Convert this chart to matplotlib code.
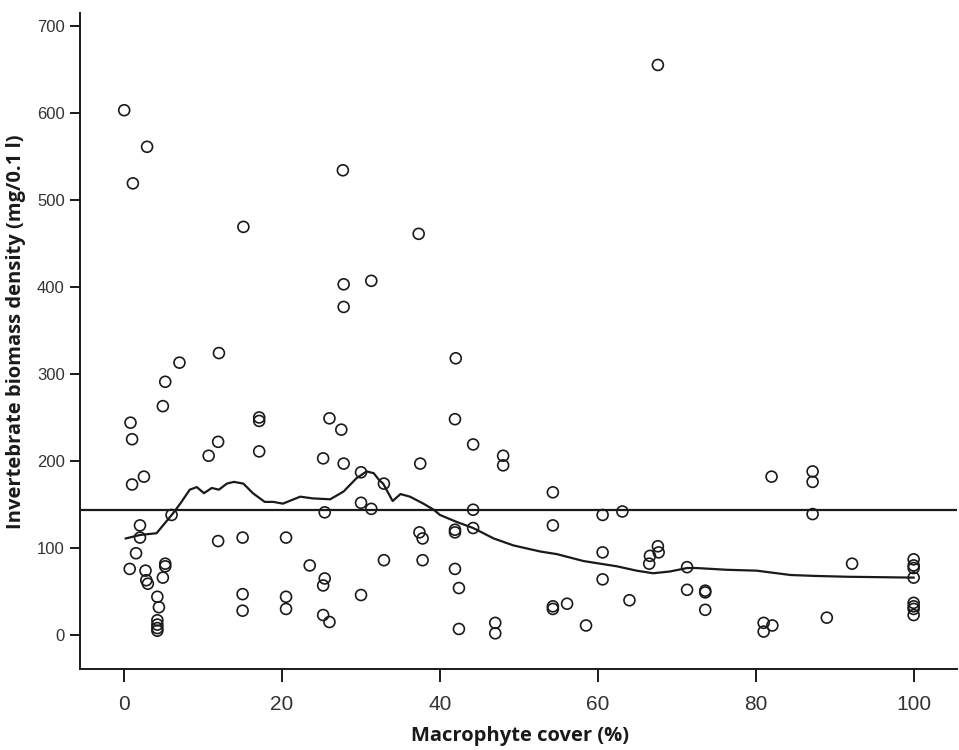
import numpy as np
import matplotlib
matplotlib.use('Agg')
import matplotlib.pyplot as plt

# macrophyte cover (%) and invertebrate biomass density (mg/0.1 l)
cover = [0, 2.9, 1.1, 27.7, 15.1, 37.3, 67.6, 27.8, 31.3, 27.8,
         12.0, 7.0, 5.2, 4.9, 0.8, 1.0, 17.1, 17.1, 26.0, 27.5,
         11.9, 17.1, 10.7, 25.2, 27.8, 2.5, 1.0, 30.0, 30.0, 31.3,
         25.4, 6.0, 2.0, 2.0, 11.9, 15.0, 20.5, 1.5, 0.7, 5.2,
         5.2, 2.7, 2.8, 3.0, 4.9, 4.2, 4.4, 4.2, 4.2, 4.2,
         4.2, 23.5, 25.4, 25.2, 15.0, 15.0, 20.5, 20.5, 25.2, 26.0,
         30.0, 32.9, 42.0, 41.9, 44.2, 37.5, 48.0, 48.0, 32.9, 54.3,
         44.2, 60.6, 63.1, 54.3, 37.4, 37.8, 41.9, 41.9, 44.2, 37.8,
         41.9, 42.4, 42.4, 47.0, 47.0, 54.3, 54.3, 56.1, 58.5, 60.6,
         60.6, 64.0, 66.5, 66.6, 67.6, 67.7, 82.0, 87.2, 87.2, 87.2,
         71.3, 73.6, 73.6, 71.3, 73.6, 81.0, 82.1, 81.0, 89.0, 92.2,
         100, 100, 100, 100, 100, 100, 100, 100]
biomass = [603, 561, 519, 534, 469, 461, 655, 403, 407, 377,
           324, 313, 291, 263, 244, 225, 250, 246, 249, 236,
           222, 211, 206, 203, 197, 182, 173, 187, 152, 145,
           141, 138, 126, 112, 108, 112, 112, 94, 76, 82,
           79, 74, 63, 59, 66, 44, 32, 17, 12, 8,
           5, 80, 65, 57, 47, 28, 44, 30, 23, 15,
           46, 86, 318, 248, 219, 197, 206, 195, 174, 164,
           144, 138, 142, 126, 118, 111, 121, 118, 123, 86,
           76, 54, 7, 14, 2, 33, 30, 36, 11, 95,
           64, 40, 82, 91, 102, 95, 182, 188, 176, 139,
           78, 51, 49, 52, 29, 14, 11, 4, 20, 82,
           87, 80, 77, 66, 37, 33, 30, 23]

mean_biomass = 144

# smoothed (loess) curve
loess_x = [0.2, 2.0, 4.1, 6.2, 7.1, 8.3, 9.2, 10.1, 11.1, 12.0,
           13.0, 13.9, 15.1, 16.3, 17.8, 18.9, 20.1, 22.3, 23.9, 26.1,
           27.8, 29.4, 30.7, 31.6, 32.3, 32.8, 34.0, 35.0, 36.2, 37.9,
           39.2, 40.0, 42.1, 44.2, 46.8, 49.3, 52.7, 54.8, 58.2, 62.4,
           64.9, 67.0, 69.1, 71.3, 72.5, 76.3, 80.1, 84.4, 87.3, 91.5,
           100]
loess_y = [111, 115, 117, 140, 151, 167, 170, 163, 169, 167,
           174, 176, 174, 163, 153, 153, 151, 159, 157, 156,
           165, 180, 188, 186, 178, 174, 154, 162, 159, 151,
           144, 138, 130, 123, 111, 103, 96, 93, 85, 79,
           74, 71, 73, 77, 77, 75, 74, 69, 68, 67,
           66]

fig = plt.figure(figsize=(9.59, 7.5), dpi=100)
ax = fig.add_axes([0.0834, 0.108, 0.9146, 0.875])

ax.scatter(cover, biomass, s=62, facecolors='none', edgecolors='#1a1a1a',
           linewidths=1.2, zorder=3)
ax.axhline(mean_biomass, color='#1a1a1a', lw=1.6, zorder=2)
ax.plot(loess_x, loess_y, color='#1a1a1a', lw=1.6, zorder=2)

ax.set_xlim(-5.6, 105.5)
ax.set_ylim(-39, 715)
ax.set_xticks([0, 20, 40, 60, 80, 100])
ax.set_yticks([0, 100, 200, 300, 400, 500, 600, 700])

for s in ['top', 'right']:
    ax.spines[s].set_visible(False)
for s in ['left', 'bottom']:
    ax.spines[s].set_linewidth(1.4)
    ax.spines[s].set_color('#1a1a1a')

ax.tick_params(axis='x', length=9.5, width=1.4, pad=9, color='#1a1a1a')
ax.tick_params(axis='y', length=7.5, width=1.4, pad=3.5, color='#1a1a1a')
for lab in ax.get_xticklabels():
    lab.set_family(['Liberation Sans Narrow', 'Liberation Sans', 'DejaVu Sans'])
    lab.set_fontsize(15)
    lab.set_color('#333333')
for lab in ax.get_yticklabels():
    lab.set_family(['Liberation Sans', 'DejaVu Sans'])
    lab.set_fontsize(12)
    lab.set_color('#333333')

ax.set_xlabel('Macrophyte cover (%)', fontsize=14.5, fontweight='bold',
              family=['Open Sans', 'DejaVu Sans'], va='center', color='#1a1a1a')
ax.set_ylabel('Invertebrate biomass density (mg/0.1 l)', fontsize=14.5,
              fontweight='bold', family=['Open Sans', 'DejaVu Sans'],
              va='center', color='#1a1a1a')
ax.xaxis.set_label_coords(0.502, -0.102)
ax.yaxis.set_label_coords(-0.073, 0.514)

fig.savefig('out.png', dpi=100)
